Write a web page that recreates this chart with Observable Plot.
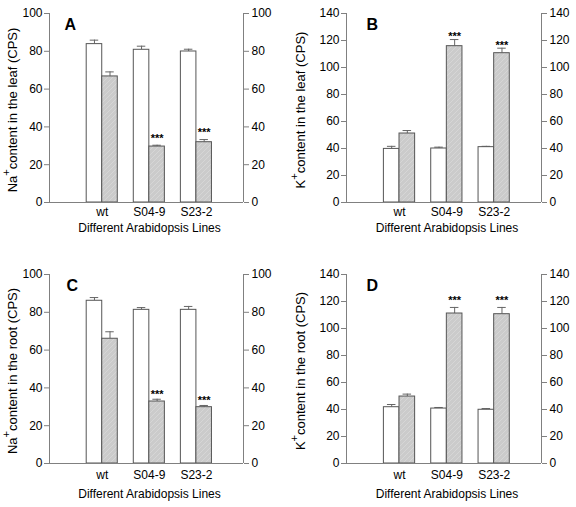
<!DOCTYPE html>
<html><head><meta charset="utf-8">
<script src="https://cdn.jsdelivr.net/npm/d3@7"></script>
<script src="https://cdn.jsdelivr.net/npm/@observablehq/plot@0.6"></script>
<style>
body{margin:0;background:#fff;}
#wrap{position:relative;width:576px;height:507px;background:#fff;}
.panel{position:absolute;}
</style></head><body><div id="wrap"></div>
<script>
// ---- data ----
const lines = ["wt", "S04-9", "S23-2"];
const xTitle = "Different Arabidopsis Lines";
const sig = ["", "***", "***"];

// A: Na+ in leaf
const naLeafWhite = [83.8, 80.8, 79.9];
const naLeafWhiteErr = [2.1, 1.9, 1.2];
const naLeafGrey = [66.7, 29.6, 31.9];
const naLeafGreyErr = [2.4, 0.7, 1.4];
// B: K+ in leaf
const kLeafWhite = [39.7, 40.0, 41.0];
const kLeafWhiteErr = [1.9, 1.0, 0.6];
const kLeafGrey = [51.1, 115.8, 110.6];
const kLeafGreyErr = [2.2, 4.9, 3.7];
// C: Na+ in root
const naRootWhite = [86.1, 81.3, 81.3];
const naRootWhiteErr = [1.7, 1.2, 1.8];
const naRootGrey = [66.0, 32.8, 29.8];
const naRootGreyErr = [3.7, 1.2, 0.9];
// D: K+ in root
const kRootWhite = [41.7, 40.7, 39.8];
const kRootWhiteErr = [2.0, 0.8, 0.9];
const kRootGrey = [49.6, 111.1, 110.6];
const kRootGreyErr = [1.8, 4.5, 5.0];

const yTicks100 = [0, 20, 40, 60, 80, 100];
const yTicks140 = [0, 20, 40, 60, 80, 100, 120, 140];

// ---- layout ----
const FONT = '"Liberation Sans", Arial, Helvetica, sans-serif';
const AXIS = "#808080";
const BAR = "#555555";

const panels = [
  {id: "A", letter: "A", ylabel: "Na+content in the leaf (CPS)", yMax: 100, ticks: yTicks100,
   white: naLeafWhite, whiteErr: naLeafWhiteErr, grey: naLeafGrey, greyErr: naLeafGreyErr,
   left: 0, top: 0, height: 253, mt: 13, mb: 51, ml: 49, mr: 45, letterDx: 15, starDy: -7, tickPad: 5, titleDy: 29},
  {id: "B", letter: "B", ylabel: "K+content in the leaf (CPS)", yMax: 140, ticks: yTicks140,
   white: kLeafWhite, whiteErr: kLeafWhiteErr, grey: kLeafGrey, greyErr: kLeafGreyErr,
   left: 288, top: 0, height: 253, mt: 13, mb: 51, ml: 58, mr: 35, letterDx: 20, starDy: -3, tickPad: 5, titleDy: 29},
  {id: "C", letter: "C", ylabel: "Na+content in the root (CPS)", yMax: 100, ticks: yTicks100,
   white: naRootWhite, whiteErr: naRootWhiteErr, grey: naRootGrey, greyErr: naRootGreyErr,
   left: 0, top: 253, height: 254, mt: 21, mb: 44, ml: 49, mr: 45, letterDx: 17, starDy: -5, tickPad: 7, titleDy: 34},
  {id: "D", letter: "D", ylabel: "K+content in the root (CPS)", yMax: 140, ticks: yTicks140,
   white: kRootWhite, whiteErr: kRootWhiteErr, grey: kRootGrey, greyErr: kRootGreyErr,
   left: 288, top: 253, height: 254, mt: 21, mb: 44, ml: 58, mr: 35, letterDx: 20, starDy: -7, tickPad: 7, titleDy: 34}
];

const xDom = [-0.12, 4];
const bw = 0.33;
const cap = 0.09;

function makePanel(cfg) {
  const rows = [];
  lines.forEach((c, i) => {
    rows.push({cat: c, i: i + 1, s: "white", v: cfg.white[i], e: cfg.whiteErr[i], sig: ""});
    rows.push({cat: c, i: i + 1, s: "grey", v: cfg.grey[i], e: cfg.greyErr[i], sig: sig[i]});
  });
  const x1 = d => d.s === "white" ? d.i - bw : d.i;
  const x2 = d => d.s === "white" ? d.i : d.i + bw;
  const xc = d => (x1(d) + x2(d)) / 2;
  const whites = rows.filter(d => d.s === "white");
  const greys = rows.filter(d => d.s === "grey");
  const patId = "hatch-" + cfg.id;

  const svg = Plot.plot({
    width: 288, height: cfg.height,
    marginLeft: cfg.ml, marginRight: cfg.mr, marginTop: cfg.mt, marginBottom: cfg.mb,
    style: {fontFamily: FONT, fontSize: "12px", color: "#000", background: "white", overflow: "visible"},
    x: {type: "linear", domain: xDom},
    y: {domain: [0, cfg.yMax]},
    marks: [
      Plot.ruleX(rows, {x: xc, y1: "v", y2: d => d.v + d.e, stroke: "#666"}),
      Plot.ruleY(rows, {y: d => d.v + d.e, x1: d => xc(d) - cap, x2: d => xc(d) + cap, stroke: "#666"}),
      Plot.rectY(whites, {x1, x2, y1: 0, y2: "v", fill: "white", stroke: BAR, strokeWidth: 1}),
      Plot.rectY(greys, {x1, x2, y1: 0, y2: "v", fill: `url(#${patId})`, stroke: BAR, strokeWidth: 1}),
      Plot.text(rows.filter(d => d.sig), {x: xc, y: d => d.v + d.e, text: "sig", dy: cfg.starDy, fontSize: 11, fontWeight: "bold", fill: "#000"}),
      Plot.ruleX(xDom, {y1: 0, y2: cfg.yMax, stroke: AXIS}),
      Plot.ruleY([0], {stroke: AXIS}),
      Plot.axisY({anchor: "left", ticks: cfg.ticks, tickSize: 5, tickPadding: 2, stroke: AXIS, fill: "#000", label: null, fontSize: 12}),
      Plot.axisY({anchor: "right", ticks: cfg.ticks, tickSize: 5, tickPadding: 3, stroke: AXIS, fill: "#000", label: null, fontSize: 12}),
      Plot.axisX({ticks: [1, 2, 3], tickFormat: v => lines[v - 1], tickSize: 0, tickPadding: cfg.tickPad, fill: "#000", label: null, fontSize: 12}),
      Plot.text([xTitle], {frameAnchor: "bottom", dy: cfg.titleDy, dx: 3, fontSize: 12, fill: "#000"}),
      Plot.text([cfg.ylabel], {frameAnchor: "left", textAnchor: "middle", rotate: -90, dx: -(cfg.ml - 12), dy: 2, fontSize: 13, fill: "#000"}),
      Plot.text([cfg.letter], {frameAnchor: "top-left", dx: cfg.letterDx, dy: 5, textAnchor: "start", lineAnchor: "top", fontWeight: "bold", fontSize: 16, fill: "#000"})
    ]
  });

  const s = d3.select(svg);
  // subtle hatch pattern definition for the grey bars
  const defs = s.insert("defs", ":first-child");
  const pat = defs.append("pattern").attr("id", patId).attr("patternUnits", "userSpaceOnUse")
    .attr("width", 5).attr("height", 5);
  pat.append("rect").attr("width", 5).attr("height", 5).attr("fill", "#cbcbcb");
  pat.append("path").attr("d", "M-1,1 l2,-2 M0,5 l5,-5 M4,6 l2,-2").attr("stroke", "#d6d6d6").attr("stroke-width", 1);

  // superscript "+" in the y-axis title
  s.selectAll("text").each(function() {
    const m = /^(Na|K)\+(content.*)$/.exec(this.textContent);
    if (m) {
      const el = d3.select(this);
      el.text(null);
      el.append("tspan").text(m[1]);
      el.append("tspan").attr("dy", "-0.6em").attr("font-size", "0.85em").text("+");
      el.append("tspan").attr("dy", "0.51em").text(m[2]);
    }
  });

  const div = document.createElement("div");
  div.className = "panel";
  div.style.left = cfg.left + "px";
  div.style.top = cfg.top + "px";
  div.appendChild(svg);
  return div;
}

const wrap = document.getElementById("wrap");
panels.forEach(p => wrap.appendChild(makePanel(p)));
</script>
</body></html>
